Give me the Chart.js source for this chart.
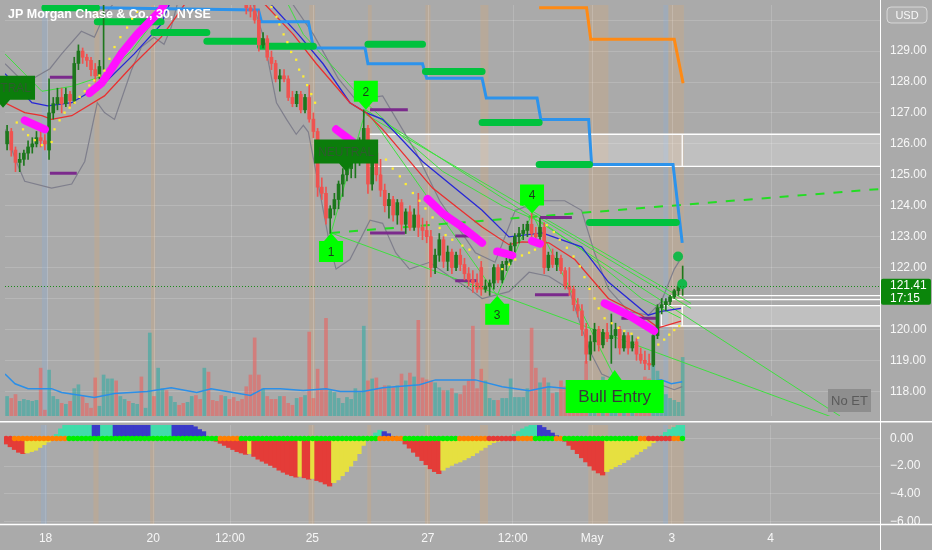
<!DOCTYPE html>
<html>
<head>
<meta charset="utf-8">
<title>JPM 30</title>
<script src="https://cdn.jsdelivr.net/npm/chart.js@4.4.0/dist/chart.umd.min.js"></script>
<style>
  html, body { margin: 0; padding: 0; background: #aaaaaa; overflow: hidden; }
  #wrap { position: relative; width: 932px; height: 550px; }
  canvas { position: absolute; left: 0; }
  #priceChart { top: 0; }
  #oscChart { top: 421px; }
</style>
</head>
<body>
<div id="wrap">
  <canvas id="priceChart" width="932" height="421"></canvas>
  <canvas id="oscChart" width="932" height="129"></canvas>
</div>
<script>
// === DATA ===
const title = "JP Morgan Chase & Co., 30, NYSE";
const priceTicks = [118, 119, 120, 121, 122, 123, 124, 125, 126, 127, 128, 129, 130];
const oscTicks = [0, -2, -4, -6];
const timeTickPos = [9.4, 35.0, 53.3, 72.9, 100.4, 120.6, 139.5, 158.5, 182.0];
const timeTickLabels = ["18", "20", "12:00", "25", "27", "12:00", "May", "3", "4"];
const lastPrice = 121.41;
const countdown = "17:15";

// 30 minute bars, index 0..161
const opens = [
  126.0,126.4,125.8,125.4,125.5,125.7,125.9,126.0,126.2,126.1,
  125.8,127.0,127.3,127.5,127.3,127.6,127.4,128.6,129.0,128.8,
  128.7,128.4,128.2,130.6,130.8,130.9,131.2,131.0,131.4,131.6,
  131.3,131.8,132.0,131.7,131.9,132.3,132.1,132.5,132.8,132.6,
  132.9,133.2,133.0,132.7,132.9,133.1,132.8,132.5,132.7,132.4,
  132.2,132.0,131.7,131.9,131.5,131.2,131.0,130.9,130.4,130.3,
  130.0,129.2,129.4,128.8,128.6,128.1,128.2,128.1,127.5,127.3,
  127.6,127.1,127.5,126.8,126.4,124.6,124.4,123.6,123.9,124.2,
  124.7,125.0,125.2,125.4,125.6,126.1,126.5,124.7,125.7,125.0,
  124.5,124.0,124.2,123.7,124.1,123.4,123.8,123.3,123.7,123.3,
  123.2,123.0,122.0,122.4,122.9,122.2,122.5,122.0,122.4,122.1,
  121.8,121.6,121.5,122.0,121.3,121.4,121.5,122.0,121.6,122.1,
  122.2,122.7,123.0,123.1,123.2,123.4,123.1,123.0,123.3,122.0,
  122.4,122.1,122.3,121.9,121.4,121.3,120.8,120.6,120.0,119.2,
  119.6,120.0,119.5,119.9,119.7,119.8,120.0,119.4,119.8,119.4,
  119.6,119.2,119.0,118.9,118.85,119.8,120.7,120.8,120.9,121.05,
  121.25,121.4
];
const highs = [
  126.6,126.5,125.9,125.7,125.8,126.1,126.2,126.4,126.5,126.3,
  128.1,127.5,127.8,127.8,127.8,127.7,128.8,129.2,129.1,128.9,
  128.8,128.6,128.7,130.9,131.1,131.4,131.3,131.6,131.8,131.7,
  132.0,132.2,132.1,132.1,132.5,132.4,132.7,133.0,132.9,133.1,
  133.4,133.3,133.1,133.1,133.3,133.2,132.9,132.9,132.8,132.5,
  132.3,132.1,132.1,132.0,131.6,131.5,131.2,131.0,130.6,130.5,
  130.3,129.6,129.5,129.0,128.7,128.4,128.4,128.2,127.7,127.7,
  127.7,127.6,127.9,127.0,126.5,124.9,124.6,124.0,124.4,124.8,
  125.2,125.4,125.5,125.8,126.2,127.1,126.6,125.9,126.0,125.5,
  124.7,124.4,124.3,124.2,124.2,123.9,124.0,123.9,124.4,123.6,
  123.5,123.2,122.6,123.1,123.0,122.7,122.6,122.5,122.6,122.3,
  122.0,121.9,121.8,122.2,121.6,121.6,122.1,122.1,122.2,122.3,
  122.8,123.1,123.3,123.4,123.5,123.75,123.3,123.6,123.45,122.5,
  122.6,122.5,122.4,122.0,122.0,121.4,121.0,120.8,120.2,119.8,
  120.2,120.1,120.0,120.2,120.5,120.2,120.1,119.9,119.9,119.8,
  119.7,119.4,119.3,119.2,119.9,120.8,121.0,121.0,121.1,121.3,
  121.45,122.05
];
const lows = [
  125.8,125.6,125.1,125.1,125.3,125.5,125.7,125.9,125.9,125.8,
  125.5,126.8,127.1,127.0,127.2,127.2,127.3,128.4,128.6,128.5,
  128.2,128.0,128.1,128.4,130.6,130.8,130.8,130.9,131.3,131.1,
  131.2,131.7,131.5,131.6,131.8,131.9,132.0,132.4,132.4,132.5,
  132.8,132.8,132.5,132.6,132.8,132.6,132.3,132.4,132.2,132.0,
  131.8,131.5,131.6,131.3,131.0,130.8,130.7,130.2,130.1,129.9,
  129.0,129.1,128.7,128.4,128.0,127.7,128.0,127.4,127.2,127.2,
  127.0,127.0,126.7,126.2,124.3,124.2,123.4,123.1,123.7,123.9,
  124.3,124.8,124.9,124.9,125.3,125.8,124.4,124.5,124.8,124.3,
  123.8,123.6,123.5,123.4,123.2,123.1,123.2,123.2,123.0,122.9,
  122.8,121.7,121.8,122.2,122.0,121.9,121.8,121.9,121.9,121.6,
  121.4,121.2,121.2,121.1,121.2,121.1,121.3,121.5,121.5,121.9,
  122.1,122.5,122.8,122.9,123.0,123.0,122.8,122.8,121.8,121.9,
  122.0,121.9,121.8,121.3,121.1,120.6,120.4,119.8,118.9,119.0,
  119.3,119.3,119.4,119.6,118.9,119.4,119.2,119.3,119.2,119.3,
  119.0,118.9,118.7,118.7,118.8,119.7,120.5,120.6,120.8,121.0,
  121.1,121.1
];
const closes = [
  126.4,125.8,125.4,125.5,125.7,125.9,126.0,126.2,126.1,126.0,
  127.0,127.3,127.5,127.3,127.6,127.4,128.6,129.0,128.8,128.7,
  128.4,128.2,128.5,130.8,130.9,131.2,131.0,131.4,131.6,131.3,
  131.8,132.0,131.7,131.9,132.3,132.1,132.5,132.8,132.6,132.9,
  133.2,133.0,132.7,132.9,133.1,132.8,132.5,132.7,132.4,132.2,
  132.0,131.7,131.9,131.5,131.2,131.0,130.9,130.4,130.3,130.0,
  129.2,129.4,128.8,128.6,128.1,128.2,128.1,127.5,127.3,127.6,
  127.1,127.5,126.8,126.4,124.6,124.4,123.6,123.9,124.2,124.7,
  125.0,125.2,125.4,125.6,126.1,126.5,124.7,125.7,125.0,124.5,
  124.0,124.2,123.7,124.1,123.4,123.8,123.3,123.7,123.3,123.2,
  123.0,122.0,122.4,122.9,122.2,122.5,122.0,122.4,122.1,121.8,
  121.6,121.5,121.3,121.3,121.4,121.5,122.0,121.6,122.1,122.2,
  122.7,123.0,123.1,123.2,123.4,123.1,123.0,123.3,122.0,122.4,
  122.1,122.3,121.9,121.4,121.3,120.8,120.6,120.0,119.2,119.6,
  120.0,119.5,119.9,119.7,119.8,120.0,119.4,119.8,119.4,119.6,
  119.2,119.0,118.9,118.85,119.8,120.7,120.8,120.9,121.05,121.25,
  121.4,121.41
];
// volume, thousands of shares
const volumes = [
  400,360,440,300,340,320,300,320,980,120,
  940,400,340,260,240,300,560,640,400,260,
  160,780,200,840,760,760,720,400,340,300,
  260,240,800,160,1700,400,980,560,520,400,
  280,220,260,280,400,420,340,980,900,320,
  300,420,400,340,380,300,340,600,840,1600,
  840,560,400,340,340,400,400,260,220,360,
  380,420,1720,360,960,560,2000,520,480,360,
  260,380,340,560,480,1840,720,760,780,560,
  620,620,580,620,860,720,880,800,1960,780,
  740,720,680,580,520,520,560,460,440,620,
  720,1840,560,960,720,360,320,320,360,360,
  760,380,380,380,560,1800,980,680,780,680,
  460,480,720,600,640,560,520,600,1120,680,
  600,560,800,600,720,520,600,520,680,600,
  560,640,800,760,1040,920,600,440,360,320,
  280,1200
];
const volumeAvg = [[-0.5,860],[1.9,660],[5.0,560],[10.6,560],[13.0,480],[20.8,380],[25.6,460],[33.4,500],
  [39.1,580],[45.2,480],[48.6,560],[58.0,420],[61.1,560],[65.1,560],[70.6,520],[76.0,560],[79.4,500],
  [84.8,500],[89.5,580],[98.3,640],[102.1,740],[111.6,740],[118.0,600],[124.4,520],[129.1,600],
  [133.9,560],[149.5,640],[155.9,740],[158.3,660],[160.9,700]];

// squeeze momentum histogram
const momentum = [
  -0.4,-0.6,-0.8,-1.0,-1.1,-1.05,-0.95,-0.85,-0.65,-0.45,
  -0.25,-0.05,0.3,0.7,1.1,1.5,1.9,2.3,2.6,2.85,
  3.0,2.9,2.85,3.2,3.3,3.4,3.3,3.2,3.1,3.0,
  2.9,2.8,2.7,2.6,2.5,2.6,2.8,3.0,3.1,3.2,
  3.1,2.7,2.2,1.6,1.1,0.85,0.65,0.5,0.1,-0.1,
  -0.2,-0.35,-0.5,-0.65,-0.8,-0.95,-1.05,-1.15,-1.1,-1.3,
  -1.5,-1.65,-1.8,-1.95,-2.1,-2.3,-2.45,-2.6,-2.7,-2.8,
  -2.75,-2.85,-2.95,-2.9,-3.05,-3.15,-3.3,-3.45,-3.2,-3.0,
  -2.7,-2.4,-2.0,-1.6,-1.1,-0.5,-0.1,0.1,0.4,0.6,
  0.5,0.35,0.15,0.05,-0.15,-0.4,-0.7,-1.0,-1.3,-1.6,
  -1.9,-2.2,-2.4,-2.55,-2.3,-2.1,-1.95,-1.8,-1.7,-1.55,
  -1.4,-1.25,-1.05,-0.85,-0.65,-0.45,-0.3,-0.2,-0.1,0.0,
  0.1,0.3,0.5,0.7,0.85,1.0,1.05,0.95,0.8,0.6,
  0.4,0.2,0.05,-0.2,-0.5,-0.8,-1.1,-1.4,-1.7,-2.0,
  -2.3,-2.5,-2.65,-2.4,-2.2,-2.05,-1.9,-1.75,-1.55,-1.35,
  -1.15,-0.95,-0.75,-0.55,-0.3,-0.1,0.2,0.45,0.65,0.8,
  0.95,1.1
];
// squeeze state per bar, run-length: r = on, o = building, g = off
const squeezeRuns = [["r",2],["o",13],["g",36],["o",5],["g",33],["o",6],["g",13],["o",7],["r",7],
  ["o",4],["g",5],["o",2],["g",18],["o",2],["r",6],["o",2],["g",1]];

// overlay lines, [bar, price]
const emaFast = [[-0.5,127.33],[4.2,127.01],[8.3,126.91],[10.6,126.79],[15.4,126.91],[23.2,127.55],[30.3,128.59],
  [36.7,129.45],[39.8,130.02],[42.2,130.49],[51.6,131.4],[61.6,130.49],[68.2,129.54],[73.7,128.59],[81.7,127.33],
  [85.5,127.01],[89.5,126.47],[101.4,124.57],[113.2,123.31],[119.6,122.74],[122.7,122.83],[129.1,122.8],
  [135.3,122.26],[143.3,121.0],[151.2,120.46],[155.2,120.05],[160.6,120.27]];
const emaSlow = [[-0.5,128.27],[5.9,127.33],[9.7,127.23],[15.4,127.33],[23.2,127.96],[30.3,128.91],[36.7,129.86],
  [38.6,130.49],[50.4,131.75],[63.0,130.49],[69.4,129.54],[75.3,128.59],[81.7,127.33],[85.5,127.01],[89.5,126.79],
  [99.0,125.43],[113.2,123.85],[119.6,122.99],[127.5,123.12],[136.9,122.67],[143.3,121.53],[152.8,120.46],
  [155.9,120.58],[160.6,120.68]];
const smaGreen = [[-0.5,128.91],[8.3,127.7],[15.4,127.86],[23.2,128.21],[29.6,129.0],[37.4,130.4],[41.0,131.44],
  [63.5,131.44],[70.6,129.54],[77.0,128.59],[85.5,127.33],[94.3,126.22],[103.8,125.11],[118.0,124.0],
  [127.5,123.46],[136.9,122.58],[151.2,121.0],[160.6,120.36]];
const bandUpper = [[-0.5,128.59],[4.2,127.96],[10.2,128.43],[13.0,128.91],[17.7,129.64],[20.8,129.45],[23.2,130.17],
  [25.1,130.49],[27.9,131.76],[63.5,131.76],[68.2,130.49],[73.0,129.54],[78.9,128.12],[83.1,127.42],[89.5,127.55],
  [97.4,125.74],[103.1,124.16],[111.6,122.48],[116.3,122.17],[121.1,123.85],[127.5,124.16],[132.9,124.16],
  [136.9,123.85],[140.0,122.48],[143.3,121.31],[148.1,120.58],[152.8,120.46],[155.9,120.9],[159.0,121.95],
  [160.9,122.36]];
const bandLower = [[-0.5,126.47],[1.9,125.52],[4.2,124.79],[10.6,124.57],[15.4,124.7],[18.5,125.43],[21.5,127.33],
  [23.2,127.01],[25.6,126.79],[29.6,128.37],[32.0,129.13],[35.0,129.45],[37.4,129.22],[39.1,129.76],[40.5,130.49],
  [43.3,131.76],[56.4,131.76],[58.7,130.49],[61.1,129.45],[64.2,127.33],[66.6,126.79],[68.9,126.31],[70.6,126.6],
  [71.8,126.38],[74.6,124.38],[77.0,122.67],[78.4,121.95],[81.7,122.26],[86.5,123.53],[89.5,123.43],[92.6,122.48],
  [95.9,121.95],[100.7,122.17],[105.4,121.72],[110.2,121.31],[113.2,121.0],[119.6,121.22],[124.4,121.85],
  [129.1,121.72],[133.9,121.31],[136.9,120.05],[139.3,119.19],[141.7,118.56],[144.8,118.37],[151.2,118.24],
  [155.2,118.24],[159.0,118.05],[160.9,118.15]];
const stopBlue = [[21.3,130.4],[59.9,130.33],[60.6,129.95],[71.8,129.95],[73.0,129.1],[85.3,129.1],[86.0,128.59],
  [99.0,128.59],[100.0,128.12],[113.2,128.12],[114.2,127.48],[126.3,127.48],[127.2,126.79],[138.6,126.79],
  [139.3,125.33],[158.7,125.33],[160.9,122.8]];
const stopOrange = [[126.8,130.4],[138.1,130.4],[139.1,129.38],[159.0,129.38],[161.1,127.96]];
const levelSteps = [
  [[9.0,130.4],[21.3,130.4]], [[21.5,129.95],[36.7,129.95]], [[35.0,129.6],[47.6,129.6]],
  [[47.6,129.32],[60.4,129.32]], [[60.4,129.16],[73.0,129.16]], [[86.0,129.22],[99.0,129.22]],
  [[99.7,128.34],[113.2,128.34]], [[113.2,126.69],[126.8,126.69]], [[126.8,125.33],[138.8,125.33]],
  [[138.8,123.46],[159.5,123.46]]
];
const waveLines = [
  [[77.2,123.12],[198.5,117.07]], [[77.2,123.12],[85.5,127.1]], [[85.5,127.1],[116.8,121.09]],
  [[116.8,121.09],[125.1,123.75]], [[125.1,123.75],[144.5,118.53]], [[85.5,127.1],[198.5,117.2]],
  [[85.5,126.95],[163.0,120.84]], [[125.1,123.75],[163.0,120.68]]
];
const waveChannel = [[77.2,123.12],[208.0,124.54]];
const pivotLevels = [
  [[10.2,128.15],[16.1,128.15]], [[10.2,125.05],[16.6,125.05]], [[86.5,127.1],[95.5,127.1]],
  [[86.5,123.12],[94.8,123.12]], [[106.8,123.02],[112.1,123.02]], [[106.8,121.57],[112.1,121.57]],
  [[127.0,123.62],[134.6,123.62]], [[125.8,121.12],[133.9,121.12]], [[146.4,120.36],[155.2,120.36]]
];
const trendDots = [
  [[4.2,126.76],[9.0,126.47]],
  [[19.6,127.64],[22.5,127.96],[24.9,128.43],[27.2,128.91],[31.0,129.54],[36.7,130.33],[39.8,131.12]],
  [[78.4,126.47],[82.4,126.06]],
  [[100.2,124.22],[103.8,123.75],[108.5,123.31],[113.2,122.8]],
  [[116.8,122.52],[120.4,122.39]],
  [[125.1,122.86],[127.0,122.77]],
  [[142.4,120.84],[148.1,120.46],[154.2,119.95]]
];
const sar = [[2.3,126.69],[3.8,126.47],[5.0,126.28],[6.6,126.12],[8.3,125.96],[10.6,126.06],[11.3,126.47],
  [12.5,126.76],[13.7,127.01],[14.9,127.17],[16.1,127.33],[17.3,127.52],[18.5,127.7],[19.6,127.89],[20.8,128.05],
  [22.0,128.21],[23.2,128.37],[24.4,128.75],[25.6,129.13],[27.0,129.45],[28.6,129.76],[29.8,130.05],[31.0,130.27],
  [63.0,130.43],[64.2,130.11],[64.9,129.86],[65.9,129.54],[66.8,129.29],[67.7,128.97],[68.9,128.72],[69.6,128.4],
  [70.6,128.18],[71.5,127.9],[72.5,127.61],[73.4,127.33],[90.3,125.49],[91.9,125.2],[93.6,124.95],[95.0,124.7],
  [96.7,124.41],[98.3,124.16],[99.7,123.91],[101.4,123.62],[103.1,123.28],[104.5,123.05],[106.1,122.9],
  [108.5,122.71],[110.2,122.58],[112.5,122.33],[118.0,121.95],[119.6,122.1],[121.1,122.26],[122.7,122.39],
  [124.4,122.48],[125.8,122.58],[128.6,123.37],[130.3,123.15],[131.7,122.9],[133.4,122.64],[135.0,122.36],
  [136.5,122.04],[137.6,121.69],[138.8,121.31],[140.0,121.0],[141.0,120.68],[142.4,120.36],[144.1,120.2],
  [145.7,120.05],[147.1,119.95],[148.8,119.86],[150.4,119.73],[155.2,119.51],[156.6,119.67],[157.8,119.83],
  [159.0,119.98],[160.2,120.11]];
const targetDots = [[159.9,122.36],[160.9,121.47]];

const waveLabels = ["1", "2", "3", "4"];
const waveAnchors = [[77.2,123.12,"up"],[85.5,127.1,"down"],[116.8,121.09,"up"],[125.1,123.75,"down"]];
const signalTags = [
  { text: "NEUTRAL", at: [-0.97,127.17], dir: "down", kind: "neutral" },
  { text: "NEUTRAL", at: [80.8,125.11], dir: "down", kind: "neutral" },
  { text: "Bull Entry", at: [144.8,118.69], dir: "up", kind: "entry" }
];
// supply / demand zones: from bar, to bar, top, bottom
const zones = [[86.0,160.9,126.31,125.27],[155.9,160.9,120.77,120.11]];
const zoneLines = [[157.8,121.09],[157.8,120.96]];
// session highlight columns
const sessions = [[8.3,9.7,"b"],[20.8,22.0,"o"],[34.3,35.3,"o"],[72.0,73.4,"o"],[86.0,86.9,"o"],[99.7,100.9,"o"],
  [112.8,114.7,"o"],[138.6,143.3,"o"],[156.4,157.6,"b"],[157.6,161.3,"o"]];

// === HELPERS ===
const X_MIN = -0.5, X_MAX = 208.03;
const TEXT = "#f7f7f7";
const GRID = "rgba(255,255,255,0.16)";
const FONT = "'Liberation Sans', Arial, sans-serif";
Chart.defaults.font.family = FONT;

const pts = list => list.map(([x, y]) => ({ x, y }));
const joinSegs = segs => {
  const out = [];
  segs.forEach(s => { out.push(...pts(s)); out.push({ x: s[s.length - 1][0], y: null }); });
  return out;
};
function lineSet(data, color, width, order, extra) {
  return Object.assign({
    type: "line", data, borderColor: color, borderWidth: width, pointRadius: 0,
    tension: 0, fill: false, order, clip: 0, yAxisID: "y", spanGaps: false
  }, extra || {});
}
function noPad(s) { s.paddingTop = 0; s.paddingBottom = 0; s.paddingLeft = 0; s.paddingRight = 0; }

function drawSessions(ctx, a, x) {
  sessions.forEach(([s, e, k]) => {
    ctx.fillStyle = k === "b" ? "rgba(140,175,215,0.32)" : "rgba(215,168,118,0.3)";
    const x0 = x.getPixelForValue(s), x1 = x.getPixelForValue(e);
    ctx.fillRect(x0, a.top, x1 - x0, a.bottom - a.top);
  });
}

function drawTag(ctx, cx, tipY, dir, w, h, tip, fill, text, font, color) {
  const half = w / 2, tw = Math.min(7, half);
  const base = dir === "up" ? tipY + tip : tipY - tip;
  const far = dir === "up" ? base + h : base - h;
  ctx.beginPath();
  ctx.moveTo(cx, tipY);
  ctx.lineTo(cx + tw, base);
  ctx.lineTo(cx + half, base);
  ctx.lineTo(cx + half, far);
  ctx.lineTo(cx - half, far);
  ctx.lineTo(cx - half, base);
  ctx.lineTo(cx - tw, base);
  ctx.closePath();
  ctx.fillStyle = fill;
  ctx.fill();
  ctx.fillStyle = color;
  ctx.font = font;
  ctx.textAlign = "center";
  ctx.textBaseline = "middle";
  ctx.fillText(text, cx, (base + far) / 2 + 1);
}

function roundRect(ctx, x, y, w, h, r) {
  ctx.beginPath();
  ctx.moveTo(x + r, y);
  ctx.arcTo(x + w, y, x + w, y + h, r);
  ctx.arcTo(x + w, y + h, x, y + h, r);
  ctx.arcTo(x, y + h, x, y, r);
  ctx.arcTo(x, y, x + w, y, r);
  ctx.closePath();
}

// === PRICE PANE ===
const up = closes.map((c, i) => c >= opens[i]);
const candleColors = up.map(u => u ? "#1d771d" : "#ef5350");
const volColors = up.map(u => u ? "rgba(40,170,160,0.55)" : "rgba(240,90,85,0.55)");

const priceDecor = {
  id: "priceDecor",
  beforeDatasetsDraw(chart) {
    const { ctx, chartArea: a, scales: { x, y } } = chart;
    ctx.save();
    drawSessions(ctx, a, x);
    ctx.strokeStyle = GRID;
    ctx.lineWidth = 1;
    timeTickPos.forEach(v => {
      const px = Math.round(x.getPixelForValue(v)) + 0.5;
      ctx.beginPath(); ctx.moveTo(px, a.top); ctx.lineTo(px, a.bottom); ctx.stroke();
    });
    zones.forEach(([f, t, top, bot]) => {
      const x0 = x.getPixelForValue(f), x1 = x.getPixelForValue(t);
      const y0 = y.getPixelForValue(top), y1 = y.getPixelForValue(bot);
      ctx.fillStyle = "rgba(255,255,255,0.26)";
      ctx.fillRect(x0, y0, a.right - x0, y1 - y0);
      ctx.strokeStyle = "#ffffff";
      ctx.lineWidth = 1.3;
      ctx.beginPath();
      ctx.moveTo(x0, y0); ctx.lineTo(a.right, y0);
      ctx.moveTo(x0, y1); ctx.lineTo(a.right, y1);
      ctx.moveTo(x0, y0); ctx.lineTo(x0, y1);
      ctx.moveTo(x1, y0); ctx.lineTo(x1, y1);
      ctx.stroke();
    });
    zoneLines.forEach(([f, p]) => {
      const x0 = x.getPixelForValue(f), py = y.getPixelForValue(p);
      ctx.beginPath(); ctx.moveTo(x0, py); ctx.lineTo(a.right, py); ctx.stroke();
    });
    ctx.restore();
  },
  afterDatasetsDraw(chart) {
    const { ctx, chartArea: a, scales: { x, y } } = chart;
    ctx.save();
    // last price line
    const py = Math.round(y.getPixelForValue(lastPrice)) + 0.5;
    ctx.strokeStyle = "#1b8a1b";
    ctx.setLineDash([1, 2]);
    ctx.beginPath(); ctx.moveTo(a.left, py); ctx.lineTo(a.right, py); ctx.stroke();
    ctx.setLineDash([]);
    waveAnchors.forEach(([b, p, dir], i) => {
      drawTag(ctx, x.getPixelForValue(b), y.getPixelForValue(p), dir, 24, 21, 8, "#00ff00",
        waveLabels[i], "12px " + FONT, "#1c3d1c");
    });
    signalTags.forEach(t => {
      const cx = x.getPixelForValue(t.at[0]), ty = y.getPixelForValue(t.at[1]);
      if (t.kind === "entry") {
        drawTag(ctx, cx, ty, t.dir, 98, 33, 10, "#00ff00", t.text, "17px " + FONT, "#3a3a3a");
      } else {
        drawTag(ctx, cx, ty, t.dir, 64, 24, 8, "#0b7d0b", t.text, "12px " + FONT, "#2f5a2f");
      }
    });
    // "No ET" table cell
    ctx.fillStyle = "#8e8e8e";
    ctx.fillRect(a.right - 52, 389, 43, 23);
    ctx.fillStyle = "#5a5a5a";
    ctx.font = "13px " + FONT;
    ctx.textAlign = "center";
    ctx.textBaseline = "middle";
    ctx.fillText("No ET", a.right - 30.5, 401);
    ctx.restore();
  },
  afterDraw(chart) {
    const { ctx, chartArea: a, scales: { y } } = chart;
    ctx.save();
    ctx.fillStyle = "#ffffff";
    ctx.font = "600 12.5px " + FONT;
    ctx.textAlign = "left";
    ctx.textBaseline = "middle";
    ctx.fillText(title, 8, 15);
    // axis separator
    ctx.strokeStyle = "#ffffff";
    ctx.lineWidth = 1;
    ctx.beginPath(); ctx.moveTo(a.right + 0.5, 0); ctx.lineTo(a.right + 0.5, chart.height); ctx.stroke();
    // currency badge
    roundRect(ctx, a.right + 7, 7, 40, 16, 4);
    ctx.fillStyle = "rgba(255,255,255,0.08)";
    ctx.fill();
    ctx.strokeStyle = "rgba(255,255,255,0.5)";
    ctx.stroke();
    ctx.fillStyle = TEXT;
    ctx.font = "11px " + FONT;
    ctx.textAlign = "center";
    ctx.fillText("USD", a.right + 27, 15.5);
    // last price badge
    const py = y.getPixelForValue(lastPrice);
    roundRect(ctx, a.right + 1, py - 7, 50, 26, 2);
    ctx.fillStyle = "#0b860b";
    ctx.fill();
    ctx.fillStyle = "#ffffff";
    ctx.font = "12px " + FONT;
    ctx.textAlign = "left";
    ctx.fillText(lastPrice.toFixed(2), a.right + 10, py);
    ctx.fillText(countdown, a.right + 10, py + 13);
    ctx.restore();
  }
};

new Chart(document.getElementById("priceChart"), {
  type: "bar",
  data: {
    datasets: [
      { type: "bar", data: volumes.map((v, i) => ({ x: i, y: v })), backgroundColor: volColors,
        barThickness: 3, grouped: false, yAxisID: "yv", order: 100 },
      lineSet(pts(volumeAvg), "#2b8fe8", 1.5, 95, { yAxisID: "yv" }),
      lineSet(pts(bandUpper), "#7f7f8c", 1.2, 90),
      lineSet(pts(bandLower), "#7f7f8c", 1.2, 90),
      lineSet(joinSegs(waveLines), "#3ee03e", 1, 85),
      lineSet(pts(waveChannel), "#22dd22", 2, 84, { borderDash: [9, 9] }),
      lineSet(pts(smaGreen), "#3ee03e", 1, 80),
      lineSet(pts(emaSlow), "#2727d6", 1.3, 79),
      lineSet(pts(emaFast), "#ea2f2f", 1.3, 78),
      lineSet(pts(stopBlue), "#2c93ec", 3, 75),
      lineSet(pts(stopOrange), "#ff8a14", 3, 74),
      lineSet(joinSegs(levelSteps), "#00c23e", 7, 73, { borderCapStyle: "round" }),
      lineSet(joinSegs(pivotLevels), "#7b2a8c", 3, 72),
      { type: "bar", data: lows.map((l, i) => ({ x: i, y: [l, highs[i]] })), backgroundColor: candleColors,
        barThickness: 1, grouped: false, yAxisID: "y", order: 60 },
      { type: "bar", data: opens.map((o, i) => ({ x: i, y: [o, closes[i]] })), backgroundColor: candleColors,
        barThickness: 3, grouped: false, minBarLength: 1, yAxisID: "y", order: 59 },
      lineSet(joinSegs(trendDots), "#ff10ff", 8, 50, { borderCapStyle: "round", borderJoinStyle: "round" }),
      lineSet(pts(sar), "#ffee33", 0, 45, { showLine: false, pointRadius: 1.6, pointStyle: "rect",
        pointBackgroundColor: "#ffee33", pointBorderWidth: 0 }),
      lineSet(pts(targetDots), "#14b84a", 0, 40, { showLine: false, pointRadius: 5,
        pointBackgroundColor: "#14b84a", pointBorderWidth: 0 })
    ]
  },
  options: {
    responsive: false,
    animation: false,
    events: [],
    layout: { padding: 0 },
    plugins: { legend: { display: false }, tooltip: { enabled: false } },
    scales: {
      x: { type: "linear", min: X_MIN, max: X_MAX, display: false, offset: false, grid: { offset: false } },
      y: {
        position: "right", min: 117.2, max: 130.49,
        afterBuildTicks: s => { s.ticks = priceTicks.map(v => ({ value: v })); },
        afterFit: s => { s.width = 52; noPad(s); },
        ticks: { color: TEXT, font: { size: 12 }, padding: 10, autoSkip: false,
          callback: v => (v >= 130 ? "" : v.toFixed(2)) },
        grid: { color: GRID, drawTicks: false },
        border: { display: false }
      },
      yv: { display: false, min: 0, max: 8420 }
    }
  },
  plugins: [priceDecor]
});

// === OSCILLATOR PANE ===
const histColors = momentum.map((v, i) => {
  const prev = i > 0 ? momentum[i - 1] : v;
  if (v >= 0) return v > prev ? "#40dcaa" : "#3a3ac8";
  return v < prev || i === 0 ? "#e43c38" : "#e6e040";
});
const squeezeColor = { r: "#e53935", o: "#ff8000", g: "#00ee00" };
const squeezeState = [];
squeezeRuns.forEach(([s, n]) => { for (let k = 0; k < n; k++) squeezeState.push(s); });

const oscDecor = {
  id: "oscDecor",
  beforeDatasetsDraw(chart) {
    const { ctx, chartArea: a, scales: { x } } = chart;
    ctx.save();
    drawSessions(ctx, a, x);
    ctx.restore();
  },
  afterDraw(chart) {
    const { ctx, chartArea: a } = chart;
    ctx.save();
    ctx.strokeStyle = "#ffffff";
    ctx.lineWidth = 1.5;
    ctx.beginPath();
    ctx.moveTo(0, 0.75); ctx.lineTo(chart.width, 0.75);
    ctx.moveTo(0, a.bottom + 0.5); ctx.lineTo(chart.width, a.bottom + 0.5);
    ctx.stroke();
    ctx.lineWidth = 1;
    ctx.beginPath(); ctx.moveTo(a.right + 0.5, 0); ctx.lineTo(a.right + 0.5, chart.height); ctx.stroke();
    ctx.restore();
  }
};

new Chart(document.getElementById("oscChart"), {
  type: "bar",
  data: {
    datasets: [
      { type: "bar", data: momentum.map((v, i) => ({ x: i, y: v })), backgroundColor: histColors,
        barThickness: 4.6, grouped: false, order: 10 },
      { type: "line", data: squeezeState.map((s, i) => ({ x: i, y: 0 })), showLine: false,
        pointRadius: 2.7, pointBorderWidth: 0, pointBackgroundColor: squeezeState.map(s => squeezeColor[s]),
        order: 5, clip: 0 }
    ]
  },
  options: {
    responsive: false,
    animation: false,
    events: [],
    layout: { padding: 0 },
    plugins: { legend: { display: false }, tooltip: { enabled: false } },
    scales: {
      x: {
        type: "linear", min: X_MIN, max: X_MAX, offset: false,
        afterBuildTicks: s => { s.ticks = timeTickPos.map(v => ({ value: v })); },
        afterFit: s => { s.height = 26; noPad(s); },
        ticks: { color: TEXT, font: { size: 12 }, padding: 7, autoSkip: false, maxRotation: 0,
          callback: (v, i) => timeTickLabels[i] },
        grid: { color: GRID, drawTicks: false, offset: false },
        border: { display: false }
      },
      y: {
        position: "right", min: -6.2, max: 0.98,
        afterBuildTicks: s => { s.ticks = oscTicks.map(v => ({ value: v })); },
        afterFit: s => { s.width = 52; noPad(s); },
        ticks: { color: TEXT, font: { size: 12 }, padding: 10, autoSkip: false,
          callback: v => (v < 0 ? "\u2212" + Math.abs(v).toFixed(2) : v.toFixed(2)) },
        grid: { color: GRID, drawTicks: false },
        border: { display: false }
      }
    }
  },
  plugins: [oscDecor]
});
</script>
</body>
</html>
